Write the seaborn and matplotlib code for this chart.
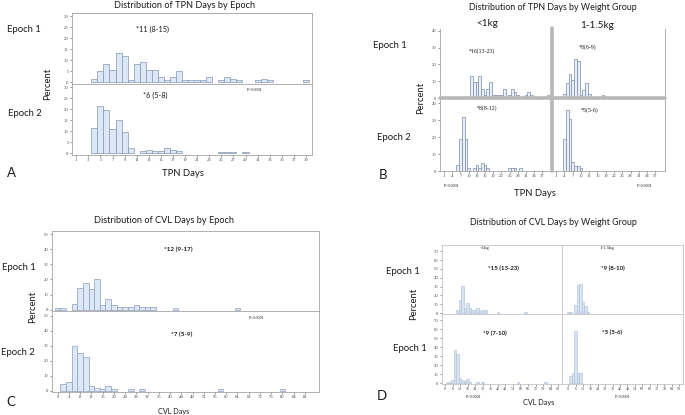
import numpy as np
import matplotlib
matplotlib.use("Agg")
import matplotlib.pyplot as plt
import seaborn as sns

# ---- data (percent of patients per bin) ----
# A: TPN days by epoch (1-day bins)
a_e1_days = [4, 5, 6, 7, 8, 9, 10, 11, 12, 13, 14, 15, 16, 17, 18, 19, 20, 21, 22, 23, 25, 26, 27, 28, 31, 32, 33, 39]
a_e1_pct = [1.5, 4.8, 8, 5.6, 13, 12, 0.8, 8, 9, 5.6, 5.6, 2.4, 0.8, 2.4, 4.8, 0.8, 0.8, 0.8, 0.8, 2.4, 0.8, 2.4, 1.6, 0.8, 0.8, 1.6, 0.8, 0.8]
a_e2_days = [4, 5, 6, 7, 8, 9, 10, 12, 13, 14, 15, 16, 17, 18, 25, 26, 27, 29]
a_e2_pct = [11.5, 21.5, 19.6, 10.9, 15, 9.5, 2.3, 0.8, 1.4, 0.8, 0.8, 2.2, 1.4, 0.8, 0.6, 0.6, 0.6, 0.6]
a_xticks = list(range(1, 40, 2))

# B: TPN days by weight group
b_lt1_e1_days = [11, 12, 13, 14, 15, 16, 17, 18, 19, 20, 21, 22, 23, 25, 26, 27, 28, 31, 32, 33, 39]
b_lt1_e1_pct = [13, 9.5, 9.5, 13, 5.5, 2, 5.5, 9.5, 2, 2, 2, 2, 5.5, 2, 5.5, 3.8, 2, 2, 3.8, 2, 2]
b_mid_e1_days = [4, 5, 6, 7, 8, 9, 10, 11, 12, 13, 18]
b_mid_e1_pct = [2.5, 9, 14.5, 10.5, 23, 22, 1.5, 4.5, 9, 2.5, 1.5]
b_lt1_e2_days = [6, 7, 8, 9, 10, 12, 13, 14, 15, 16, 17, 25, 26, 27, 29]
b_lt1_e2_pct = [3.5, 19, 32, 19, 1.5, 1.5, 3.5, 1.5, 5, 3.5, 1.5, 1.5, 1.5, 1.5, 1.5]
b_mid_e2_days = [4, 5, 6, 7, 8, 9, 10]
b_mid_e2_pct = [19, 36, 30.5, 5.5, 3, 3, 2]
b_xticks = list(range(1, 38, 3))

# C: CVL days by epoch (2-day bins)
c_e1_days = [0, 2, 6, 8, 10, 12, 14, 16, 18, 20, 22, 24, 26, 28, 30, 32, 34, 42, 64]
c_e1_pct = [1, 1, 3.8, 14.5, 17.5, 13.5, 20.5, 3, 7, 3, 2, 2, 2, 3, 1.5, 2, 2, 1, 1]
c_e2_days = [2, 4, 6, 8, 10, 12, 14, 16, 18, 20, 26, 30, 58, 80]
c_e2_pct = [4.2, 6, 29.5, 25, 22.5, 2.8, 1.5, 0.8, 2.8, 0.8, 0.8, 0.8, 0.8, 0.8]
c_xticks = list(range(0, 89, 4))

# D: CVL days by weight group
d_lt1_e1_days = [10, 12, 14, 16, 18, 20, 22, 24, 26, 28, 30, 32, 42, 64]
d_lt1_e1_pct = [3.5, 15, 31, 5.5, 11, 5.5, 4, 4, 5.5, 2.5, 3.5, 3.5, 1.5, 1.5]
d_mid_e1_days = [0, 2, 6, 8, 10, 12, 14, 16]
d_mid_e1_pct = [1.5, 1.5, 9, 32, 33, 13, 8.5, 1.5]
d_lt1_e2_days = [2, 4, 6, 8, 10, 12, 14, 16, 18, 20, 26, 30, 58, 80]
d_lt1_e2_pct = [1, 1.5, 3, 37, 32, 5.5, 3.5, 2, 5, 1, 1, 1, 1, 1]
d_mid_e2_days = [2, 4, 6, 8, 10]
d_mid_e2_pct = [8, 11.5, 58.5, 11.5, 11.5]
d_xticks = list(range(0, 91, 6))

sns.set_theme(style="white")
plt.rcParams["font.family"] = ["Lato", "DejaVu Sans"]

W, H = 685, 415
fig = plt.figure(figsize=(6.85, 4.15), dpi=100)

FRAME = "#a4a4a4"
TXT = "#1a1a1a"
SERIF = ["Liberation Serif", "DejaVu Serif"]


def box(x0, y0, x1, y1):
    return fig.add_axes([x0 / W, 1 - y1 / H, (x1 - x0) / W, (y1 - y0) / H])


def put(x, y, s, size=6.5, **kw):
    kw.setdefault("ha", "center")
    kw.setdefault("va", "center")
    kw.setdefault("color", TXT)
    fig.text(x / W, 1 - y / H, s, fontsize=size, **kw)


def hist(ax, days, pct, width, face, edge, lw=0.5):
    if width == 1:
        sns.histplot(x=days, weights=pct, discrete=True, ax=ax, color=face,
                     edgecolor=edge, linewidth=lw, alpha=1)
    else:
        sns.histplot(x=days, weights=pct, binwidth=2, binrange=(-1, 93), ax=ax,
                     color=face, edgecolor=edge, linewidth=lw, alpha=1)
    # empty bins are not drawn in the original
    for p in ax.patches:
        if p.get_height() <= 0:
            p.set_visible(False)
    ax.set_xlabel("")
    ax.set_ylabel("")


def style(ax, xlim, ylim, yticks, xticks=None, showy=True, frame=FRAME, lw=0.6):
    ax.set_xlim(*xlim)
    ax.set_ylim(*ylim)
    ax.set_yticks(yticks)
    if xticks is None:
        ax.set_xticks([])
    else:
        ax.set_xticks(xticks)
    ax.tick_params(length=1.5, width=0.4, pad=1, labelsize=3.3, colors="#444444", direction="out")
    ax.tick_params(axis="y", left=showy, labelleft=showy)
    ax.tick_params(axis="x", bottom=xticks is not None)
    for lab in ax.get_xticklabels() + ax.get_yticklabels():
        lab.set_family(SERIF)
    for s in ax.spines.values():
        s.set_color(frame)
        s.set_linewidth(lw)


# ---------------- Panel A ----------------
fa, ea = "#dce8f7", "#8796ad"
a1 = box(72, 13, 312, 84)
hist(a1, a_e1_days, a_e1_pct, 1, fa, ea)
style(a1, (0.3, 40), (-0.9, 31.4), range(0, 31, 5))
a2 = box(72, 84, 312, 155)
hist(a2, a_e2_days, a_e2_pct, 1, fa, ea)
style(a2, (0.3, 40), (-0.9, 31.4), range(0, 31, 5), a_xticks)

put(185, 5, "Distribution of TPN Days by Epoch", 6.6)
put(24, 30, "Epoch 1", 6.8)
put(25, 113, "Epoch 2", 6.8)
put(48, 84, "Percent", 6.8, rotation=90)
put(153, 29, "*11 (8-15)", 5.2)
put(155, 95, "*6 (5-8)", 5.2)
put(255, 90, "P<0.0001", 3.0, family=SERIF)
put(183, 173, "TPN Days", 6.8)
put(11, 173, "A", 9.5)

# ---------------- Panel B ----------------
fb, eb = "#e8eff8", "#7a8ca6"
bx = (-0.5, 40.5)
b11 = box(440, 29, 552, 98)
hist(b11, b_lt1_e1_days, b_lt1_e1_pct, 1, fb, eb)
style(b11, bx, (0, 41), range(0, 41, 10))
b12 = box(552, 29, 665, 98)
hist(b12, b_mid_e1_days, b_mid_e1_pct, 1, fb, eb)
style(b12, bx, (0, 41), range(0, 41, 10), showy=False)
b21 = box(440, 98, 552, 171)
hist(b21, b_lt1_e2_days, b_lt1_e2_pct, 1, fb, eb)
style(b21, bx, (0, 43), range(0, 41, 10), b_xticks)
b22 = box(552, 98, 665, 171)
hist(b22, b_mid_e2_days, b_mid_e2_pct, 1, fb, eb)
style(b22, bx, (0, 43), range(0, 41, 10), b_xticks, showy=False)
for ax in (b11, b12, b21, b22):
    ax.spines["top"].set_visible(False)
for ax in (b11, b21):
    ax.spines["right"].set_visible(False)
for ax in (b12, b22):
    ax.spines["left"].set_visible(False)
for ax in (b11, b12):
    ax.spines["bottom"].set_visible(False)

sep = "#b8b8b8"
fig.add_artist(plt.Line2D([440 / W, 665 / W], [1 - 98 / H, 1 - 98 / H], color=sep, lw=2.6,
                          transform=fig.transFigure))
fig.add_artist(plt.Line2D([552 / W, 552 / W], [1 - 28 / H, 1 - 171 / H], color=sep, lw=2.6,
                          transform=fig.transFigure))

put(553, 7, "Distribution of TPN Days by Weight Group", 6.4)
put(487, 24, "<1kg", 7.2)
put(597, 25, "1-1.5kg", 7.2)
put(390, 46, "Epoch 1", 6.8)
put(394, 137, "Epoch 2", 6.8)
put(421, 98, "Percent", 6.8, rotation=90)
put(482, 51, "*16(13-23)", 4.2, family=SERIF)
put(588, 47, "*8(6-9)", 4.2, family=SERIF)
put(487, 108, "*8(8-12)", 4.2, family=SERIF)
put(590, 110, "*5(5-6)", 4.2, family=SERIF)
put(452, 186, "P<0.0001", 3.0, family=SERIF)
put(645, 186, "P<0.0001", 3.0, family=SERIF)
put(535, 193, "TPN Days", 6.8)
put(383, 175, "B", 9.5)

# ---------------- Panel C ----------------
fc, ec = "#dce8f7", "#8f9fb6"
cx = (-2, 93)
c1 = box(52, 231, 319, 311)
hist(c1, c_e1_days, c_e1_pct, 2, fc, ec)
style(c1, cx, (-0.9, 52), range(0, 51, 10))
c2 = box(52, 311, 319, 392)
hist(c2, c_e2_days, c_e2_pct, 2, fc, ec)
style(c2, cx, (-0.9, 53), range(0, 51, 10), c_xticks)

put(164, 220, "Distribution of CVL Days by Epoch", 6.6)
put(19, 267, "Epoch 1", 6.8)
put(18, 352, "Epoch 2", 6.8)
put(33, 307, "Percent", 6.8, rotation=90)
put(178, 249, "*12 (9-17)", 4.6, fontweight="bold")
put(182, 334, "*7 (5-9)", 4.6, fontweight="bold")
put(257, 318, "P<0.0001", 3.0, family=SERIF)
put(174, 411, "CVL Days", 5.2)
put(11, 402, "C", 9.5)

# ---------------- Panel D ----------------
fd, ed = "#d6e3f3", "#aebdd2"
dxl = (-2.4, 93)
dxr = (-5, 93)
dframe = "#c4c4c4"
d11 = box(442, 245, 562, 314)
hist(d11, d_lt1_e1_days, d_lt1_e1_pct, 2, fd, ed, 0.4)
style(d11, dxl, (-1, 77), range(0, 71, 10), frame=dframe)
d12 = box(562, 245, 683, 314)
hist(d12, d_mid_e1_days, d_mid_e1_pct, 2, fd, ed, 0.4)
style(d12, dxr, (-1, 77), range(0, 71, 10), showy=False, frame=dframe)
d21 = box(442, 314, 562, 384)
hist(d21, d_lt1_e2_days, d_lt1_e2_pct, 2, fd, ed, 0.4)
style(d21, dxl, (-1, 77), range(0, 71, 10), d_xticks, frame=dframe)
d22 = box(562, 314, 683, 384)
hist(d22, d_mid_e2_days, d_mid_e2_pct, 2, fd, ed, 0.4)
style(d22, dxr, (-1, 77), range(0, 71, 10), d_xticks, showy=False, frame=dframe)
for ax in (d21, d22):
    ax.tick_params(axis="x", labelsize=2.9)

put(553, 222, "Distribution of CVL Days by Weight Group", 6.4)
put(485, 248, "<1kg", 3.4, family=SERIF)
put(607, 248, "1-1.5kg", 3.4, family=SERIF)
put(503, 268, "*15 (13-23)", 4.4, fontweight="bold")
put(613, 268, "*9 (8-10)", 4.4, fontweight="bold")
put(495, 333, "*9 (7-10)", 4.4, fontweight="bold")
put(612, 332, "*5 (5-6)", 4.4, fontweight="bold")
put(403, 271, "Epoch 1", 6.8)
put(410, 348, "Epoch 1", 6.8)
put(414, 304, "Percent", 6.8, rotation=90)
put(539, 402, "CVL Days", 5.2)
put(474, 397, "P<0.0001", 3.0, family=SERIF)
put(623, 397, "P<0.0001", 3.0, family=SERIF)
put(382, 396, "D", 9.5)

fig.savefig("out.png", dpi=100)
